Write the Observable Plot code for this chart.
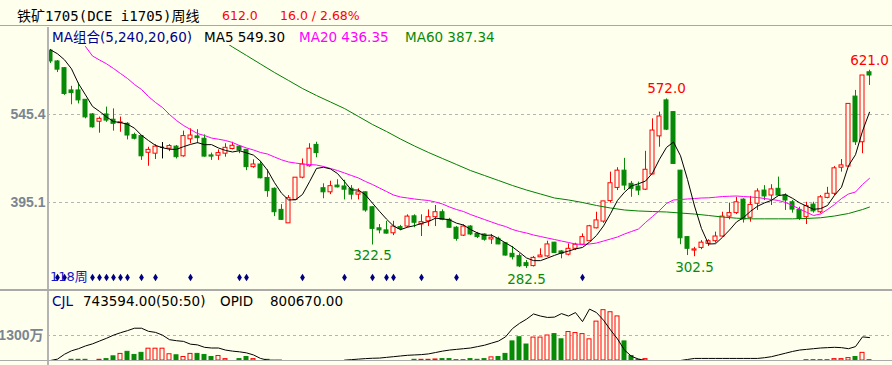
<!DOCTYPE html>
<html><head><meta charset="utf-8">
<script src="https://cdn.jsdelivr.net/npm/d3@7"></script>
<script src="https://cdn.jsdelivr.net/npm/@observablehq/plot@0.6"></script>
<style>
html,body{margin:0;padding:0;}
body{width:892px;height:365px;background:#FFFFEE;position:relative;overflow:hidden;font-family:"DejaVu Sans","Noto Sans CJK SC",sans-serif;}
.t{position:absolute;white-space:nowrap;line-height:16px;}
.ln{position:absolute;}
#main{position:absolute;left:0;top:28px;}
#vol{position:absolute;left:0;top:288px;}
#main g[aria-label="y-axis tick label"] text, #vol g[aria-label="y-axis tick label"] text{font-weight:bold;font-size:14px;}
#main g[aria-label="y-axis tick label"], #vol g[aria-label="y-axis tick label"]{font-weight:bold;font-size:14px;}
</style></head><body>
<div id="main"></div>
<div id="vol"></div>
<div class="ln" style="left:0;top:25px;width:892px;height:1px;background:#a8a8a8"></div>
<div class="ln" style="left:47px;top:27px;width:2px;height:338px;background:#b4b4b4"></div>
<div class="ln" style="left:0;top:289px;width:892px;height:2px;background:#aaaaaa"></div>
<div class="ln" style="left:0;top:360px;width:892px;height:1px;background:#aaaaaa"></div>
<div id="title" class="t" style="left:17px;top:8px;font-size:14px;font-family:'DejaVu Sans Mono','Noto Sans CJK SC',monospace;color:#000"></div>
<div id="price" class="t" style="left:222px;top:8px;font-size:12.5px;color:#ff0000"></div>
<div id="chg" class="t" style="left:280px;top:8px;font-size:12.5px;color:#ff0000"></div>
<div id="maSet" class="t" style="left:52px;top:29px;font-size:13.5px;color:#000090"></div>
<div id="ma5t" class="t" style="left:204px;top:29px;font-size:13.5px;color:#000"></div>
<div id="ma20t" class="t" style="left:299px;top:29px;font-size:13.5px;color:#ff00ff"></div>
<div id="ma60t" class="t" style="left:405px;top:29px;font-size:13.5px;color:#078a07"></div>
<div id="weeks" class="t" style="left:50px;top:269px;font-size:13px;color:#1515c8"></div>
<div id="cjl" class="t" style="left:52px;top:293px;font-size:13.5px;color:#000090"></div>
<div id="cjlv" class="t" style="left:83px;top:293px;font-size:13.5px;color:#000"></div>
<div id="opidt" class="t" style="left:220px;top:293px;font-size:13.5px;color:#000"></div>
<div id="opidv" class="t" style="left:270px;top:293px;font-size:13.5px;color:#000"></div>
<script>
// ---------- data ----------
const title = "铁矿1705(DCE i1705)周线";
const lastPrice = 612.0;
const change = 16.0;
const maPeriods = [5, 240, 20, 60];
const cjlValue = 743594.00;
const cjlRatio = "50:50";
const opidValue = 800670.00;
const yTicks = [545.4, 395.1];
const volTicks = [1300];

const open = [654.5,636,624.5,586.5,586.5,570.5,545.5,533,545.5,536.5,
530.5,529.5,510.5,508.5,480,478.5,489.5,487,490.5,474,
503,508,504,475.5,475,478.5,486.5,490.5,485,455.5,
460,437,418.5,382.5,359.5,399.5,437.5,457,493.5,419.5,
412.5,424,422.5,418.5,408.5,412.5,387,351,347.5,342.5,
353,354,371.5,357.5,363,370,378.5,365.5,352,338.5,
354,341.5,340.5,332,333,325.5,307.5,303.5,291.5,286.5,
301.5,303,326.5,311.5,306,316,323,329,351,362.5,
397.5,420,449.5,427,422.5,417,443,508,569.5,549.5,
449.5,336,313,317.5,324.5,329,337,371,377,400,
369,393,415.5,407,418.5,407,395.5,382.5,370,391.5,
378.5,403,410,454.5,456.5,576,498,617.5];
const high = [656.5,637.5,625.5,593.5,599,571,547,541,558,555,
541,531.5,513.5,509.5,489.5,494,497.5,494,492.5,517,
521,519.5,510.5,479.5,485,495.5,498,492.5,485.5,468,
465.5,451,420,391.5,407,437.5,469.5,495.5,498,427,
431.5,434,433,424,418.5,413,387.5,357.5,363,363,
356,374,374,374,382.5,390,382.5,368,354,357,
355.5,344,341.5,340.5,336,326,320,307.5,296,303,
316,329,327,313,324.5,325.5,341.5,356,378.5,397,
447,454.5,470.5,431,430,482.5,538,549.5,572,550,
450,336.5,318.5,330,331.5,344.5,378.5,394,404,401.5,
405.5,418.5,424,425.5,438.5,410,398.5,387,395.5,395.5,
407,421,456.5,468.5,563.5,586.5,612,621];
const low = [632.5,617,578,562,563.5,538,522,513.5,532,517,
515,502,502,467,457,468.5,469.5,482,469.5,472.5,
495.5,495.5,472.5,467,467,472.5,485,478.5,449.5,453.5,
435.5,404,371,364.5,359.5,398.5,435.5,455.5,471.5,401.5,
408.5,420,399.5,399.5,399.5,378.5,322.5,341.5,341,338.5,
347,352,352,337,354,354,364,351,329,337,
338.5,333.5,329,323.5,323,303.5,297,284,282.5,285,
301.5,301.5,308,299,304,313,321.5,328.5,350,359.5,
394,415.5,415.5,404,407,415.5,442.5,489.5,518,460,
323,304.5,302.5,314.5,320,325.5,336,365.5,374.5,360,
361.5,381.5,398.5,390,405.5,381.5,377,364.5,357.5,377,
376,401.5,407,447,455.5,492.5,478.5,595];
const close = [636,622,580.5,582,569.5,540.5,523.5,538,535,529.5,
532,509.5,504,474,485,490.5,489.5,491.5,472.5,508.5,
509.5,505,473.5,473.5,479.5,488.5,492,484,455.5,460,
436.5,414.5,378.5,365.5,402.5,437.5,460,487,479.5,412.5,
423,421,417,408.5,412.5,381.5,350,347.5,342,354,
350,371,360.5,361.5,370,378.5,365.5,352,333,354,
340.5,336,331.5,335,323.5,304.5,301.5,286,286.5,300.5,
304.5,323.5,309,307.5,316,323,336,354.5,364.5,397,
428,449.5,424,418.5,415.5,451,518,542,519.5,461,
334,316,315,326.5,329,337,371,377,395.5,366,
391,414,405.5,417.5,407,398.5,383,367,389,380,
404,410,453.5,458.5,563.5,498,612,612];

const ma5 = [655.9,649.1,638.8,623.4,598,578.9,559.2,550.7,541.3,533.3,
531.6,528.8,522,509.8,500.9,492.6,488.6,486.1,485.8,490.5,
494.3,497.4,493.8,494,488.2,484,481.4,483.5,479.9,476,
465.6,450.1,429,411,399.5,399.7,408.8,430.5,453.3,455.3,
452.4,444.6,430.6,416.4,416.4,408.1,393.9,380,366.7,355,
348.7,352.9,355.5,359.4,362.6,368.3,367.2,365.5,359.8,356.6,
349,343.1,339,339.4,333.3,326.1,319.2,310.1,300.4,295.8,
295.8,300.2,304.8,309,312.1,315.8,318.3,327.4,338.8,355,
376,398.7,412.6,423.4,427.1,431.7,445.4,469,489.2,498.3,
474.9,434.5,389.1,350.5,324.1,324.7,335.7,348.1,361.9,369.3,
380.1,388.7,394.4,398.8,407,408.5,402.3,394.6,388.9,383.5,
384.6,390,407.3,421.2,457.9,476.7,517.1,549.3];

const ma20 = [null,null,null,null,null,661.5,645.3,638.5,632,624,
615.4,606.9,596.6,588.1,576.1,565.9,557.3,545.4,535.1,526.6,
519.8,512.9,509.5,505.2,503.2,501,497.6,492.4,488.2,484.8,
480.5,477.9,472.8,468,464.3,462.5,460.8,460,459.1,456.6,
453.2,449.7,445.5,441.2,436.9,431,425.8,419.8,413.9,407.9,
404.5,402.8,401.1,399.7,398.5,395.9,392.5,387.4,383.1,379.7,
374.6,370.3,366,361.8,357.5,354.1,349,345.6,343,339.6,
337,334.4,331.9,329.3,326.8,324.2,323.3,324.2,325.9,329.3,
332.7,336.2,341.3,345.6,349.8,360.9,371.2,381.4,393.4,399.4,
400.2,401.1,401.9,402.8,403.1,404.1,405.3,405.8,406.2,405.3,
404.5,403.6,401.9,400.2,398.5,395.1,390,384,378.5,372.9,
375.4,383.1,391.7,401.9,409.6,413,425.8,436.35];

const ma60Week = [25,26,28,30,32,34,36,38,40,42,44,46,48,50,52,54,56,58,60,62,64,66,68,70,72,74,76,78,80,82,84,86,88,90,92,94,96,98,100,102,104,106,108,110,112,114,116,117];
const ma60 = [668.4,660.7,646.2,631.6,617.1,603.5,589.8,577.8,566.7,555.6,542,528.3,516.4,503.5,491.6,480.5,470.2,460,449.7,441.2,432.7,424.1,416.4,409.6,402.8,399.4,395.1,390,385.7,382.3,380.6,379.7,378.9,377.1,375.4,372.9,370.3,368.3,367.2,367.2,367.2,367.2,367.8,369,372,376.3,383.1,387.34];

// volume and open interest, in 万
const volume = [0,0,0,36,36,36,0,36,72,217,
343,451,289,397,614,614,614,325,271,181,
343,343,289,181,235,72,0,72,181,72,
0,36,0,0,0,0,0,0,0,0,
0,0,0,0,0,0,0,0,0,0,
0,0,36,36,36,54,72,72,18,18,
72,36,72,163,181,343,993,1210,831,1192,
1192,1300,1373,1101,1481,1427,1373,1101,2022,2618,
2510,2293,993,235,36,72,0,0,0,0,
0,0,0,0,0,0,0,0,0,0,
0,0,0,0,0,0,0,0,18,18,
18,18,72,72,126,181,397,18];
const opid = [0,72,325,505,614,758,866,1011,1155,1318,
1444,1553,1679,1679,1517,1462,1318,1083,1029,993,
849,812,686,650,650,542,487,451,397,289,
108,18,18,18,null,null,null,null,null,null,
null,null,18,45,72,99,117,126,163,199,
235,271,289,307,343,415,487,542,578,614,
650,722,794,903,1011,1228,1661,1932,2149,2420,
2311,2239,2257,2438,2311,2492,2022,2673,2492,2095,
1589,1119,542,217,72,0,null,null,null,null,
0,54,108,108,108,108,108,108,108,108,
108,108,144,199,289,379,470,542,578,614,
650,668,686,668,614,722,1228,1192];

const markWeeks = [1,2,6,7,8,9,10,11,13,15,20,27,28,36,42,46,48,49,53,58,76];
const highLabels = [88, 117];
const lowLabels = [46, 68, 92];

// ---------- styles ----------
const UP = "#ff0000", DN = "#078a07", BG = "#FFFFEE", DOJI = "#000000";
const BW = 2 / 7;
const xDomain = [0, close.length - 1];
const xRange = [50, 869];
const colorOf = dir => dir > 0 ? UP : dir < 0 ? DN : DOJI;

const candles = close.map((c, i) => ({
  i, o: open[i], h: high[i], l: low[i], c,
  dir: c > open[i] ? 1 : c < open[i] ? -1 : 0
}));
const ma5Pts = ma5.map((v, i) => ({i, v}));
const ma20Pts = ma20.map((v, i) => ({i, v})).filter(d => d.v != null);
const ma60Pts = ma60.map((v, k) => ({i: ma60Week[k], v}));
const volData = volume.map((v, i) => ({i, v, dir: candles[i].dir})).filter(d => d.v > 0);
const opidPts = opid.map((v, i) => ({i, v}));

const diamond = {
  draw(ctx) {
    const w = 2.4, h = 3.8;
    ctx.moveTo(0, -h); ctx.lineTo(w, 0); ctx.lineTo(0, h); ctx.lineTo(-w, 0); ctx.closePath();
  }
};

const main = Plot.plot({
  width: 892, height: 260,
  marginLeft: 47, marginRight: 3, marginTop: 17, marginBottom: 11,
  style: {background: "transparent", overflow: "visible"},
  x: {type: "linear", domain: xDomain, range: xRange, axis: null},
  y: {type: "linear", domain: [yTicks[1], yTicks[0]], range: [174, 86], label: null},
  color: {type: "identity"},
  marks: [
    Plot.ruleY(yTicks, {stroke: "#b4b4b4", strokeDasharray: "3,3"}),
    Plot.axisY({ticks: yTicks, tickSize: 0, tickPadding: 2, tickFormat: d => d.toFixed(1),
      fontSize: 14, fontWeight: "bold", fontFamily: "'Liberation Sans', sans-serif", fill: "#7b8591", label: null}),
    Plot.ruleX(candles, {x: "i", y1: "l", y2: "h", stroke: d => colorOf(d.dir), strokeWidth: 1}),
    Plot.rect(candles.filter(d => d.dir !== 0), {
      x1: d => d.i - BW, x2: d => d.i + BW, y1: "o", y2: "c",
      fill: d => d.dir < 0 ? DN : BG, stroke: d => colorOf(d.dir), strokeWidth: 1
    }),
    Plot.ruleY(candles.filter(d => d.dir === 0), {y: "o", x1: d => d.i - BW, x2: d => d.i + BW, stroke: DOJI}),
    Plot.line(ma60Pts, {x: "i", y: "v", stroke: "#008000", strokeWidth: 1, clip: true}),
    Plot.line(ma20Pts, {x: "i", y: "v", stroke: "#ff00ff", strokeWidth: 1, clip: true}),
    Plot.line(ma5Pts, {x: "i", y: "v", stroke: "#000000", strokeWidth: 1, clip: true}),
    Plot.text(highLabels, {x: d => d, y: d => high[d], text: d => high[d].toFixed(1), dy: -10,
      fill: UP, fontSize: 13.5, fontFamily: "DejaVu Sans"}),
    Plot.text(lowLabels, {x: d => d, y: d => low[d], text: d => low[d].toFixed(1), dy: 11,
      fill: "#0a8a0a", fontSize: 13.5, fontFamily: "DejaVu Sans"}),
    Plot.dot(markWeeks, {x: d => d, frameAnchor: "bottom", symbol: diamond, fill: "#000080", r: 3})
  ]
});
document.getElementById("main").appendChild(main);

const volPlot = Plot.plot({
  width: 892, height: 77,
  marginLeft: 47, marginRight: 3, marginTop: 10, marginBottom: 0,
  style: {background: "transparent", overflow: "visible"},
  x: {type: "linear", domain: xDomain, range: xRange, axis: null},
  y: {type: "linear", domain: [0, volTicks[0]], range: [72, 47], label: null},
  color: {type: "identity"},
  marks: [
    Plot.ruleY(volTicks, {stroke: "#b4b4b4", strokeDasharray: "3,3"}),
    Plot.axisY({ticks: volTicks, tickSize: 0, tickPadding: 4, tickFormat: d => d + "万",
      fontSize: 14, fontWeight: "bold", fontFamily: "'Liberation Sans', 'Noto Sans CJK SC', sans-serif", fill: "#7b8591", label: null}),
    Plot.rect(volData, {
      x1: d => d.i - BW, x2: d => d.i + BW, y1: 0, y2: "v",
      fill: d => d.dir < 0 ? DN : BG, stroke: d => d.dir < 0 ? DN : UP, strokeWidth: 1
    }),
    Plot.line(opidPts, {x: "i", y: "v", stroke: "#000000", strokeWidth: 1})
  ]
});
document.getElementById("vol").appendChild(volPlot);

// ---------- texts ----------
document.getElementById("title").textContent = title;
document.getElementById("price").textContent = lastPrice.toFixed(1);
document.getElementById("chg").textContent =
  `${change.toFixed(1)} / ${(change / (lastPrice - change) * 100).toFixed(2)}%`;
document.getElementById("maSet").textContent = `MA组合(${maPeriods.join(",")})`;
document.getElementById("ma5t").textContent = `MA5 ${ma5[ma5.length - 1].toFixed(2)}`;
document.getElementById("ma20t").textContent = `MA20 ${ma20[ma20.length - 1].toFixed(2)}`;
document.getElementById("ma60t").textContent = `MA60 ${ma60[ma60.length - 1].toFixed(2)}`;
document.getElementById("weeks").textContent = `${close.length}周`;
document.getElementById("cjl").textContent = "CJL";
document.getElementById("cjlv").textContent = `${cjlValue.toFixed(2)}(${cjlRatio})`;
document.getElementById("opidt").textContent = "OPID";
document.getElementById("opidv").textContent = opidValue.toFixed(2);
</script>
</body></html>
